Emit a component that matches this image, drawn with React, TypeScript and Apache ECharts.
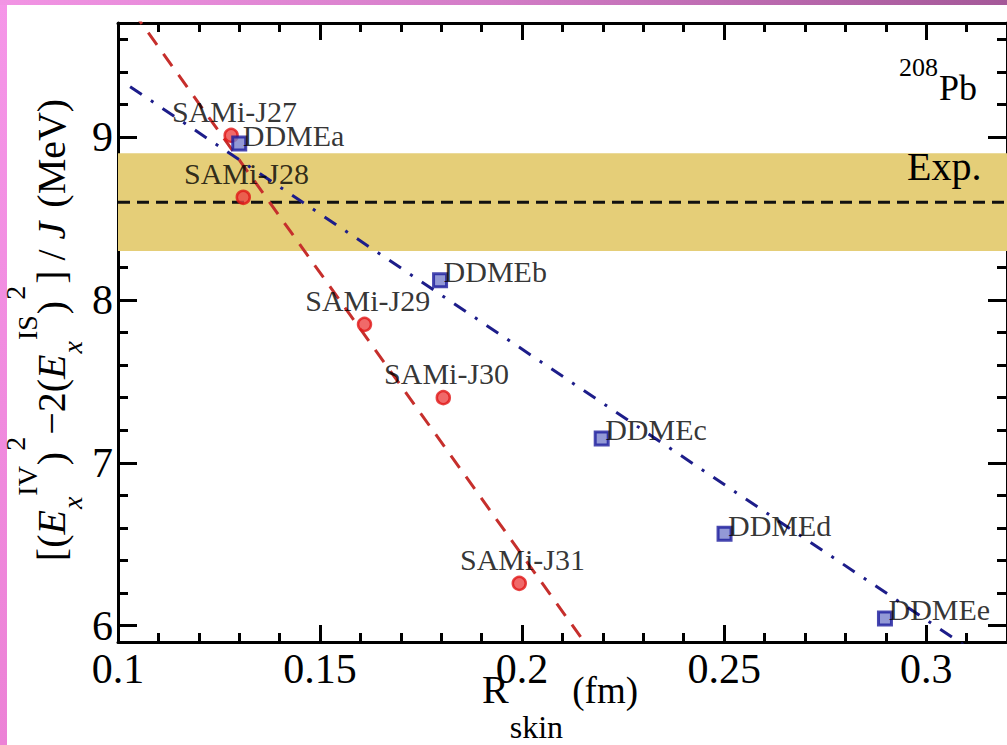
import React, { useEffect, useRef } from 'react';
import * as echarts from 'echarts';

// ---------- data ----------
const samiNames = ['SAMi-J27', 'SAMi-J28', 'SAMi-J29', 'SAMi-J30', 'SAMi-J31'];
const samiRskin = [0.128, 0.131, 0.161, 0.1805, 0.1993];
const samiValue = [9.01, 8.63, 7.85, 7.40, 6.26];

const ddmeNames = ['DDMEa', 'DDMEb', 'DDMEc', 'DDMEd', 'DDMEe'];
const ddmeRskin = [0.130, 0.1797, 0.2197, 0.2501, 0.2898];
const ddmeValue = [8.96, 8.12, 7.15, 6.565, 6.045];

const samiFitX = [0.1, 0.22];
const samiFitY = [9.90, 5.74];
const ddmeFitX = [0.103, 0.315];
const ddmeFitY = [9.309, 5.787];

const expBand = [8.3, 8.9];
const expCentral = 8.6;

const xRange = [0.1, 0.32];
const yRange = [5.9, 9.7];
const xMajorTicks = [0.1, 0.15, 0.2, 0.25, 0.3];
const xMinorTicks = [0.11, 0.12, 0.13, 0.14, 0.16, 0.17, 0.18, 0.19, 0.21, 0.22, 0.23, 0.24, 0.26, 0.27, 0.28, 0.29, 0.31];
const yMajorTicks = [6, 7, 8, 9];
const yMinorTicks = [6.2, 6.4, 6.6, 6.8, 7.2, 7.4, 7.6, 7.8, 8.2, 8.4, 8.6, 8.8, 9.2, 9.4, 9.6];

const FONT = '"Liberation Serif", "Times New Roman", serif';

// ---------- helpers ----------
let measureCtx: CanvasRenderingContext2D | null = null;
function measure(text: string, font: string): number {
  if (!measureCtx) measureCtx = document.createElement('canvas').getContext('2d');
  measureCtx!.font = font;
  return measureCtx!.measureText(text).width;
}

type Piece = { t: string; size: number; italic?: boolean; dy: number; gap?: number };

function buildPieces(pieces: Piece[]) {
  let adv = 0;
  const children: any[] = [];
  pieces.forEach((p) => {
    adv += p.gap || 0;
    const font = `${p.italic ? 'italic ' : ''}${p.size}px ${FONT}`;
    children.push({
      type: 'text',
      x: adv,
      y: p.dy - 0.34 * p.size,
      z: 100,
      style: {
        text: p.t,
        font,
        fill: '#000',
        align: 'left',
        verticalAlign: 'middle',
      },
    });
    adv += measure(p.t, font);
  });
  return { children, width: adv };
}

function axisX(position: 'bottom' | 'top', major: boolean, labels: boolean) {
  return {
    type: 'value',
    position,
    min: xRange[0],
    max: xRange[1],
    axisLine: { show: major, onZero: false, lineStyle: { color: '#000', width: 3 } },
    axisTick: {
      show: true,
      inside: true,
      length: major ? 17 : 9,
      customValues: major ? xMajorTicks : xMinorTicks,
      lineStyle: { color: '#000', width: 3 },
    },
    axisLabel: labels
      ? {
          show: true,
          customValues: xMajorTicks,
          formatter: (v: number) => String(v),
          margin: 6,
          fontSize: 42,
          fontFamily: FONT,
          color: '#000',
        }
      : { show: false },
    splitLine: { show: false },
  };
}

function axisY(position: 'left' | 'right', major: boolean, labels: boolean) {
  return {
    type: 'value',
    position,
    min: yRange[0],
    max: yRange[1],
    axisLine: { show: major, onZero: false, lineStyle: { color: '#000', width: 3 } },
    axisTick: {
      show: true,
      inside: true,
      length: major ? 19 : 10,
      customValues: major ? yMajorTicks : yMinorTicks,
      lineStyle: { color: '#000', width: 3 },
    },
    axisLabel: labels
      ? {
          show: true,
          customValues: yMajorTicks,
          formatter: (v: number) => String(v),
          margin: 5,
          fontSize: 42,
          fontFamily: FONT,
          color: '#000',
        }
      : { show: false },
    splitLine: { show: false },
  };
}

export default function App() {
  const ref = useRef<HTMLDivElement>(null);

  useEffect(() => {
    if (!ref.current) return;
    const chart = echarts.init(ref.current, undefined, { renderer: 'svg' });

    // y-axis title pieces
    const F = 40;
    const f = 28;
    const sub = 17;
    const sup = -28;
    const sup2 = -40;
    const yTitle = buildPieces([
      { t: '[(', size: F, dy: 0 },
      { t: 'E', size: F, italic: true, dy: 0 },
      { t: 'x', size: f, italic: true, dy: sub, gap: 1 },
      { t: 'IV', size: f, dy: sup, gap: 1 },
      { t: ')', size: F, dy: 0, gap: 1 },
      { t: '2', size: f, dy: sup2, gap: 1 },
      { t: '\u22122(', size: F, dy: 0, gap: 2 },
      { t: 'E', size: F, italic: true, dy: 0 },
      { t: 'x', size: f, italic: true, dy: sub, gap: 1 },
      { t: 'IS', size: f, dy: sup, gap: 1 },
      { t: ')', size: F, dy: 0, gap: 1 },
      { t: '2', size: f, dy: sup2, gap: 1 },
      { t: '] / ', size: F, dy: 0, gap: 2 },
      { t: 'J', size: F, italic: true, dy: 0 },
      { t: ' (MeV)', size: F, dy: 0, gap: 4 },
    ]);
    const yTitleCenter = 330;

    const xTitle = buildPieces([
      { t: 'R', size: 40, dy: 0 },
      { t: 'skin', size: 32, dy: 35, gap: 1 },
      { t: ' (fm)', size: 37, dy: 0 },
    ]);

    const pbLabel = buildPieces([
      { t: '208', size: 26, dy: -24 },
      { t: 'Pb', size: 36, dy: 0, gap: 1 },
    ]);

    const expLabel = buildPieces([{ t: 'Exp.', size: 40, dy: 0 }]);

    const symbolHalf = 6.5;
    const samiLabelOffset = [-58, -23];
    const ddmeLabelOffset = [5, -7];

    const option: any = {
      animation: false,
      backgroundColor: '#ffffff',
      grid: { left: 118, top: 23, right: -3, bottom: 103, containLabel: false },
      xAxis: [axisX('bottom', true, true), axisX('bottom', false, false), axisX('top', true, false), axisX('top', false, false)],
      yAxis: [axisY('left', true, true), axisY('left', false, false), axisY('right', true, false), axisY('right', false, false)],
      series: [
        {
          name: 'Exp.',
          type: 'line',
          xAxisIndex: 0,
          yAxisIndex: 0,
          symbol: 'none',
          data: xRange.map((x) => [x, expCentral]),
          lineStyle: { color: '#111', width: 3, type: [12, 7] },
          z: 2,
          silent: true,
          markArea: {
            silent: true,
            z: 1,
            itemStyle: { color: '#e5ce78' },
            label: { show: false },
            data: [[{ yAxis: expBand[0] }, { yAxis: expBand[1] }]],
          },
        },
        {
          name: 'SAMi fit',
          type: 'line',
          xAxisIndex: 0,
          yAxisIndex: 0,
          symbol: 'none',
          data: samiFitX.map((x, i) => [x, samiFitY[i]]),
          lineStyle: { color: '#c62f2c', width: 3, type: [15, 11] },
          z: 3,
          silent: true,
        },
        {
          name: 'DDME fit',
          type: 'line',
          xAxisIndex: 0,
          yAxisIndex: 0,
          symbol: 'none',
          data: ddmeFitX.map((x, i) => [x, ddmeFitY[i]]),
          lineStyle: { color: '#1d1d8a', width: 3, type: [14, 11, 3, 11] },
          z: 3,
          silent: true,
        },
        {
          name: 'SAMi',
          type: 'scatter',
          xAxisIndex: 0,
          yAxisIndex: 0,
          symbol: 'circle',
          symbolSize: 13,
          itemStyle: { color: '#ec4444', borderColor: '#e01616', borderWidth: 2.5 },
          data: samiRskin.map((x, i) => ({ name: samiNames[i], value: [x, samiValue[i]] })),
          label: {
            show: true,
            formatter: '{b}',
            position: [samiLabelOffset[0] + symbolHalf, samiLabelOffset[1] + symbolHalf],
            align: 'left',
            verticalAlign: 'middle',
            fontSize: 30,
            fontFamily: FONT,
            color: '#000',
          },
          z: 5,
        },
        {
          name: 'DDME',
          type: 'scatter',
          xAxisIndex: 0,
          yAxisIndex: 0,
          symbol: 'rect',
          symbolSize: 13,
          itemStyle: { color: '#7880cc', borderColor: '#1c1c9c', borderWidth: 3 },
          data: ddmeRskin.map((x, i) => ({ name: ddmeNames[i], value: [x, ddmeValue[i]] })),
          label: {
            show: true,
            formatter: '{b}',
            position: [ddmeLabelOffset[0] + symbolHalf, ddmeLabelOffset[1] + symbolHalf],
            align: 'left',
            verticalAlign: 'middle',
            fontSize: 30,
            fontFamily: FONT,
            color: '#000',
          },
          z: 5,
        },
      ],
      graphic: [
        {
          type: 'rect',
          left: 0,
          top: 0,
          z: 100,
          shape: { x: 0, y: 0, width: 7, height: 745 },
          style: {
            fill: new echarts.graphic.LinearGradient(0, 0, 0, 1, [
              { offset: 0, color: '#f596e8' },
              { offset: 1, color: '#ec82d6' },
            ]),
          },
        },
        {
          type: 'rect',
          left: 0,
          top: 0,
          z: 100,
          shape: { x: 0, y: 0, width: 1007, height: 5 },
          style: {
            fill: new echarts.graphic.LinearGradient(0, 0, 1, 0, [
              { offset: 0, color: '#f294e4' },
              { offset: 0.5, color: '#d27cc6' },
              { offset: 1, color: '#a45898' },
            ]),
          },
        },
        {
          type: 'group',
          x: 65,
          y: yTitleCenter + yTitle.width / 2,
          rotation: Math.PI / 2,
          z: 100,
          children: yTitle.children,
        },
        {
          type: 'group',
          x: 482,
          y: 703,
          z: 100,
          children: xTitle.children,
        },
        {
          type: 'group',
          x: 899,
          y: 100,
          z: 100,
          children: pbLabel.children,
        },
        {
          type: 'group',
          x: 907,
          y: 180,
          z: 100,
          children: expLabel.children,
        },
      ],
    };

    chart.setOption(option);
    return () => chart.dispose();
  }, []);

  return <div ref={ref} style={{ position: 'fixed', left: 0, top: 0, width: 1007, height: 745 }} />;
}
